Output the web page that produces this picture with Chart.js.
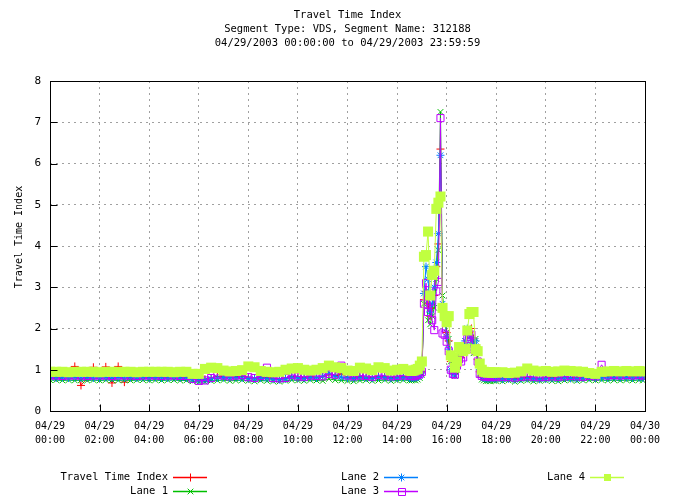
<!DOCTYPE html>
<html>
<head>
<meta charset="utf-8">
<script src="https://cdn.jsdelivr.net/npm/chart.js@4.4.0/dist/chart.umd.min.js"></script>
<style>
body { margin: 0; background: #ffffff; }
#grafico { display: block; }
</style>
</head>
<body>
<canvas id="grafico" width="675" height="504"></canvas>
<script>
// horarios das leituras (15 min, 5 min no pico da tarde)
var horarios = [
    "00:00","00:15","00:30","00:45","01:00","01:15","01:30","01:45",
    "02:00","02:15","02:30","02:45","03:00","03:15","03:30","03:45",
    "04:00","04:15","04:30","04:45","05:00","05:15","05:30","05:45",
    "06:00","06:15","06:30","06:45","07:00","07:15","07:30","07:45",
    "08:00","08:15","08:30","08:45","09:00","09:15","09:30","09:45",
    "10:00","10:15","10:30","10:45","11:00","11:15","11:30","11:45",
    "12:00","12:15","12:30","12:45","13:00","13:15","13:30","13:45",
    "14:00","14:15","14:30",
    "14:35","14:40","14:45","14:50","14:55",
    "15:00","15:05","15:10","15:15","15:20","15:25","15:30","15:35","15:40","15:45","15:50","15:55",
    "16:00","16:05","16:10","16:15","16:20","16:25","16:30","16:35","16:40","16:45","16:50","16:55",
    "17:00","17:05","17:10","17:15","17:20","17:25","17:30","17:35","17:40","17:45","17:50","17:55",
    "18:00","18:15","18:30","18:45","19:00","19:15","19:30","19:45",
    "20:00","20:15","20:30","20:45","21:00","21:15","21:30","21:45",
    "22:00","22:15","22:30","22:45","23:00","23:15","23:30","23:45","23:55"
];

var valores_tti = [
    0.82,0.82,0.83,0.82,1.08,0.62,0.8,1.06,0.82,1.07,0.68,1.08,0.7,0.82,0.83,0.82,0.82,0.83,0.82,0.82,0.82,0.81,0.82,
    0.78,0.76,0.77,0.8,0.84,0.83,0.82,0.83,0.84,0.82,0.8,0.82,0.81,0.79,0.78,0.8,0.84,0.82,0.81,0.83,0.82,0.83,0.88,0.86,0.9,0.82,0.8,0.83,0.82,0.81,0.84,0.83,0.81,0.82,0.83,0.82,
    0.82,0.83,0.84,0.85,0.88,
    0.95,2.7,2.9,2.6,2.3,2.5,2.8,3.5,4.05,6.35,2.6,2.3,
    1.9,1.7,1.2,0.95,0.9,1.1,1.35,1.3,1.4,1.6,1.85,1.9,
    2.0,1.75,1.6,1.25,0.95,0.84,0.82,0.8,0.81,0.8,0.8,0.81,
    0.8,0.79,0.8,0.78,0.8,0.81,0.8,0.79,0.8,0.81,0.8,0.82,0.81,0.8,0.82,0.83,0.82,0.84,0.83,0.82,0.83,0.82,0.83,0.82,0.82
];

var valores_lane1 = [
    0.75,0.75,0.74,0.75,0.74,0.75,0.74,0.75,0.74,0.75,0.75,0.74,0.75,0.74,0.75,0.75,0.74,0.75,0.74,0.75,0.75,0.74,0.74,
    0.72,0.7,0.71,0.73,0.74,0.75,0.73,0.74,0.75,0.73,0.72,0.74,0.73,0.72,0.71,0.73,0.75,0.74,0.73,0.75,0.74,0.73,0.78,0.75,0.74,0.73,0.72,0.74,0.75,0.73,0.74,0.75,0.73,0.74,0.75,0.74,
    0.74,0.75,0.74,0.76,0.8,
    0.88,2.6,2.9,2.2,2.1,2.3,2.5,3.2,3.9,7.25,2.8,2.35,
    1.9,1.75,1.2,0.95,0.85,1.0,1.45,1.5,1.6,1.7,2.0,1.85,
    1.6,1.4,1.75,1.3,0.9,0.76,0.74,0.72,0.73,0.72,0.74,0.73,
    0.73,0.72,0.74,0.71,0.73,0.74,0.72,0.73,0.74,0.73,0.72,0.74,0.75,0.73,0.74,0.75,0.74,0.75,0.74,0.75,0.74,0.75,0.74,0.75,0.74
];

var valores_lane2 = [
    0.81,0.8,0.81,0.8,0.81,0.8,0.81,0.8,0.8,0.81,0.8,0.81,0.8,0.81,0.8,0.81,0.8,0.81,0.8,0.8,0.81,0.8,0.8,
    0.77,0.75,0.75,0.78,0.8,0.81,0.8,0.81,0.8,0.79,0.78,0.8,0.79,0.77,0.76,0.78,0.82,0.8,0.79,0.81,0.8,0.84,0.92,0.84,0.82,0.8,0.79,0.81,0.8,0.79,0.82,0.81,0.79,0.8,0.81,0.8,
    0.8,0.8,0.81,0.82,0.85,
    0.92,2.85,3.5,3.2,2.4,2.6,3.0,3.6,4.3,6.2,2.6,2.3,
    1.8,1.5,1.0,0.9,0.88,1.2,1.5,1.45,1.5,1.7,2.0,1.85,
    1.75,1.55,1.7,1.5,1.0,0.82,0.8,0.79,0.78,0.79,0.8,0.79,
    0.78,0.77,0.78,0.76,0.78,0.79,0.78,0.77,0.78,0.79,0.78,0.8,0.79,0.78,0.8,0.81,0.8,0.81,0.8,0.81,0.8,0.81,0.8,0.81,0.8
];

var valores_lane3 = [
    0.86,0.86,0.85,0.86,0.86,0.86,0.85,0.86,0.86,0.86,0.85,0.86,0.86,0.86,0.85,0.86,0.86,0.86,0.85,0.86,0.86,0.85,0.85,
    0.78,0.73,0.74,0.8,0.88,0.86,0.84,0.86,0.87,0.82,0.8,0.85,1.05,0.8,0.79,0.8,0.88,0.84,0.83,0.86,0.85,0.84,0.9,0.88,1.1,0.86,0.84,0.86,0.85,0.83,0.87,0.86,0.84,0.85,0.86,0.85,
    0.85,0.84,0.86,0.87,0.9,
    0.95,2.6,3.1,2.4,2.65,2.2,1.96,2.9,3.13,7.1,1.88,1.85,
    1.68,1.45,1.0,0.9,0.88,1.1,1.25,1.2,1.3,1.5,1.75,1.8,
    1.85,1.5,1.45,1.2,0.9,0.85,0.84,0.83,0.84,0.82,0.83,0.84,
    0.82,0.83,0.82,0.81,0.83,0.84,0.83,0.82,0.83,0.84,0.83,0.84,0.85,0.84,0.83,0.85,0.84,1.12,0.86,0.87,0.86,0.87,0.86,0.87,0.86
];

var valores_lane4 = [
    0.95,0.95,0.95,0.94,0.95,0.95,0.95,0.95,0.94,0.95,0.95,0.95,0.95,0.95,0.94,0.95,0.95,0.95,0.95,0.95,0.94,0.95,0.95,
    0.9,0.9,1.02,1.05,1.04,0.98,0.96,0.97,0.99,1.08,1.06,0.97,0.95,0.94,0.95,1.0,1.03,1.04,1.0,0.98,1.0,1.04,1.1,1.06,1.04,0.98,0.97,1.05,1.03,0.99,1.06,1.04,0.98,1.0,1.02,0.98,
    0.97,0.98,1.0,1.02,1.1,
    1.2,3.74,3.78,4.35,2.8,3.3,3.4,4.9,5.05,5.2,2.5,2.3,
    2.15,2.3,1.35,1.3,1.05,1.2,1.55,1.5,1.45,1.5,1.95,2.35,
    2.4,2.4,1.5,1.45,1.15,1.0,0.95,0.94,0.93,0.94,0.93,0.94,
    0.93,0.94,0.92,0.93,0.96,1.03,0.98,0.96,0.97,0.95,0.96,0.98,0.97,0.96,0.95,0.92,0.9,0.95,0.96,0.97,0.96,0.97,0.96,0.97,0.96
];

var nomes_series = ['Travel Time Index', 'Lane 1', 'Lane 2', 'Lane 3', 'Lane 4'];
var cores_series = ['#ff0000', '#00c000', '#0080ff', '#c000ff', '#c0ff40'];
var marcadores = ['cross', 'crossRot', 'star', 'rect', 'rect'];

var ticks_x = [
    ['04/29', '00:00'], ['04/29', '02:00'], ['04/29', '04:00'], ['04/29', '06:00'],
    ['04/29', '08:00'], ['04/29', '10:00'], ['04/29', '12:00'], ['04/29', '14:00'],
    ['04/29', '16:00'], ['04/29', '18:00'], ['04/29', '20:00'], ['04/29', '22:00'],
    ['04/30', '00:00']
];
var ticks_y = [0, 1, 2, 3, 4, 5, 6, 7, 8];

var titulo = [
    'Travel Time Index',
    'Segment Type: VDS, Segment Name: 312188',
    '04/29/2003 00:00:00 to 04/29/2003 23:59:59'
];
var titulo_y = 'Travel Time Index';

var fonte = "'DejaVu Sans Mono', monospace";

function hora_decimal(texto) {
    var partes = texto.split(':');
    return Number(partes[0]) + Number(partes[1]) / 60;
}

function montar_pontos(valores) {
    var pontos = [];
    for (let c = 0; c < horarios.length; c++) {
        pontos.push({ x: hora_decimal(horarios[c]), y: valores[c] });
    }
    if (valores.length != horarios.length) {
        console.log('tamanho errado: ' + valores.length);
    }
    return pontos;
}

function desenhar_marcador(ctx, estilo, cheio, x, y, r) {
    ctx.beginPath();
    if (estilo == 'cross' || estilo == 'star') {
        ctx.moveTo(x - r, y); ctx.lineTo(x + r, y);
        ctx.moveTo(x, y - r); ctx.lineTo(x, y + r);
    }
    if (estilo == 'crossRot' || estilo == 'star') {
        var d = r * 0.707;
        ctx.moveTo(x - d, y - d); ctx.lineTo(x + d, y + d);
        ctx.moveTo(x - d, y + d); ctx.lineTo(x + d, y - d);
    }
    if (estilo == 'rect') {
        if (cheio) {
            ctx.fillRect(x - r, y - r, 2 * r, 2 * r);
        } else {
            ctx.rect(Math.round(x - r) + 0.5, Math.round(y - r) + 0.5, 2 * r, 2 * r);
        }
    }
    ctx.stroke();
}

var extras = {
    id: 'extras',
    afterDraw: function (chart) {
        var ctx = chart.ctx;
        var area = chart.chartArea;
        var esc_x = chart.scales.x;
        var esc_y = chart.scales.y;

        ctx.save();
        ctx.fillStyle = '#000000';
        ctx.font = '10.5px ' + fonte;
        ctx.textAlign = 'center';
        ctx.textBaseline = 'middle';

        var centro = (area.left + area.right) / 2;
        for (let c = 0; c < titulo.length; c++) {
            ctx.fillText(titulo[c], centro, 15 + c * 14);
        }

        ctx.save();
        ctx.font = '10px ' + fonte;
        ctx.translate(19, 237);
        ctx.rotate(-Math.PI / 2);
        ctx.fillText(titulo_y, 0, 0);
        ctx.restore();

        // moldura e marcas
        var esq = Math.round(area.left) + 0.5;
        var dir = Math.round(area.right) + 0.5;
        var topo = Math.round(area.top) + 0.5;
        var base = Math.round(area.bottom) + 0.5;
        ctx.strokeStyle = '#000000';
        ctx.lineWidth = 1;
        ctx.strokeRect(esq, topo, dir - esq, base - topo);

        ctx.beginPath();
        for (let c = 0; c < ticks_y.length; c++) {
            var py = Math.round(esc_y.getPixelForValue(ticks_y[c])) + 0.5;
            ctx.moveTo(esq, py);
            ctx.lineTo(esq + 7, py);
        }
        for (let c = 0; c < ticks_x.length; c++) {
            var px = Math.round(esc_x.getPixelForValue(c * 2)) + 0.5;
            ctx.moveTo(px, base);
            ctx.lineTo(px, base - 7);
        }
        ctx.stroke();

        // legenda no estilo gnuplot
        var fim_texto = [168, 168, 379, 379, 585];
        var linha_leg = [477, 491, 477, 491, 477];
        var raio_leg = [4, 4, 4, 3.5, 3.5];
        ctx.font = '10.5px ' + fonte;
        ctx.textAlign = 'right';
        for (let c = 0; c < nomes_series.length; c++) {
            var yl = linha_leg[c] + 0.5;
            ctx.fillStyle = '#000000';
            ctx.fillText(nomes_series[c], fim_texto[c], linha_leg[c]);
            var x1 = fim_texto[c] + 5;
            var x2 = x1 + 34;
            ctx.strokeStyle = cores_series[c];
            ctx.fillStyle = cores_series[c];
            ctx.lineWidth = 1.5;
            ctx.beginPath();
            ctx.moveTo(x1, yl);
            ctx.lineTo(x2, yl);
            ctx.stroke();
            ctx.lineWidth = 1;
            desenhar_marcador(ctx, marcadores[c], c == 4, Math.round((x1 + x2) / 2) + 0.5, yl, raio_leg[c]);
        }
        ctx.restore();
    }
};

var series = [];
var todos_valores = [valores_tti, valores_lane1, valores_lane2, valores_lane3, valores_lane4];
var raios = [4, 4, 4, 5, 7.1];
for (let c = 0; c < nomes_series.length; c++) {
    series.push({
        label: nomes_series[c],
        data: montar_pontos(todos_valores[c]),
        order: 4 - c,
        borderColor: cores_series[c],
        backgroundColor: c == 3 ? 'rgba(0,0,0,0)' : cores_series[c],
        pointBorderColor: cores_series[c],
        pointBackgroundColor: c == 3 ? 'rgba(0,0,0,0)' : cores_series[c],
        pointStyle: marcadores[c],
        pointRadius: raios[c],
        pointBorderWidth: c == 4 ? 0 : 1,
        borderWidth: 1,
        tension: 0,
        fill: false
    });
}

Chart.defaults.font.family = fonte;
Chart.defaults.font.size = 10;
Chart.defaults.color = '#000000';

var grafico = new Chart(document.getElementById('grafico'), {
    type: 'line',
    data: { datasets: series },
    options: {
        responsive: false,
        animation: false,
        devicePixelRatio: 1,
        layout: { padding: { top: 81, right: 30, bottom: 0, left: 0 } },
        plugins: {
            legend: { display: false },
            title: { display: false },
            tooltip: { enabled: false }
        },
        scales: {
            x: {
                type: 'linear',
                min: 0,
                max: 24,
                afterFit: function (escala) { escala.height = 93; },
                afterBuildTicks: function (escala) {
                    escala.ticks = ticks_x.map(function (t, i) { return { value: i * 2 }; });
                },
                ticks: {
                    autoSkip: false,
                    maxRotation: 0,
                    padding: 8,
                    font: { size: 10, lineHeight: 1.45 },
                    callback: function (valor) { return ticks_x[Math.round(valor / 2)]; }
                },
                grid: { color: '#a0a0a0', lineWidth: 1, drawTicks: false },
                border: { display: false, dash: [2, 4] }
            },
            y: {
                min: 0,
                max: 8,
                afterFit: function (escala) { escala.width = 50; },
                afterBuildTicks: function (escala) {
                    escala.ticks = ticks_y.map(function (v) { return { value: v }; });
                },
                ticks: {
                    padding: 9,
                    font: { size: 11 },
                    callback: function (valor) { return String(valor); }
                },
                grid: { color: '#a0a0a0', lineWidth: 1, drawTicks: false },
                border: { display: false, dash: [2, 4] }
            }
        }
    },
    plugins: [extras]
});
</script>
</body>
</html>
